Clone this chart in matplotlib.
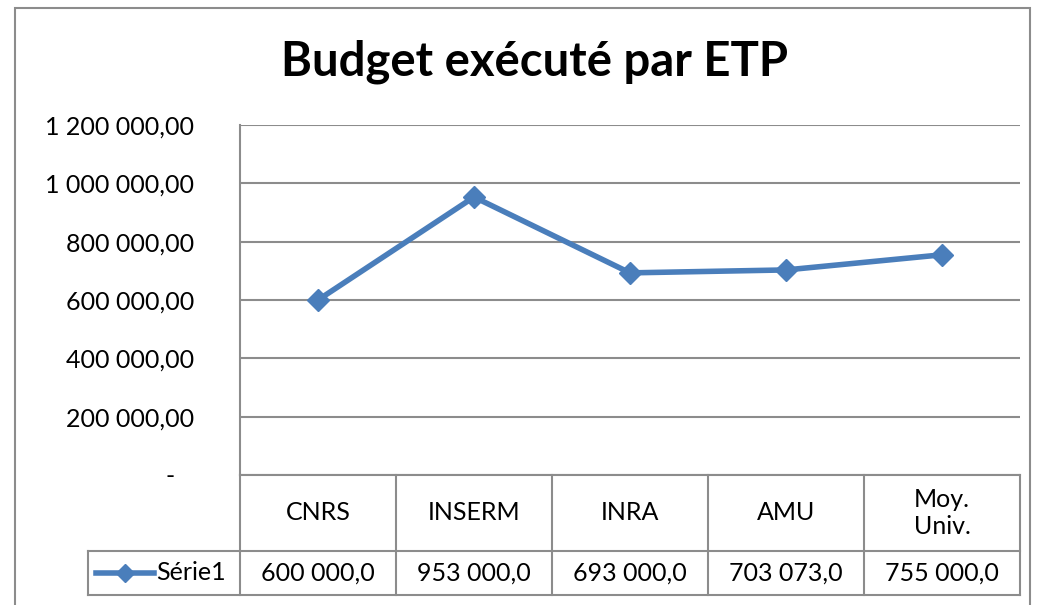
import matplotlib.pyplot as plt
from matplotlib.lines import Line2D
from matplotlib.patches import Rectangle

# Données
categories = ["CNRS", "INSERM", "INRA", "AMU", "Moy.\nUniv."]
budget_etp = [600000, 953000, 693000, 703073, 755000]
nom_serie = "Série1"
titre = "Budget exécuté par ETP"
y_ticks = [0, 200000, 400000, 600000, 800000, 1000000, 1200000]

bleu = "#4A7EBB"
gris = "#8C8C8C"
plt.rcParams['font.family'] = ['Lato', 'DejaVu Sans']
fs = 18


def fmt_fr(v, dec):
    # format français : espace pour les milliers, virgule décimale
    return f"{v:,.{dec}f}".replace(",", " ").replace(".", ",")


W, H = 1048, 605
fig = plt.figure(figsize=(W / 100, H / 100), dpi=100)

# cadre extérieur
fig.patches.append(Rectangle((15 / W, -0.1), (1030 - 15) / W, 1.1 - 8 / H,
                             transform=fig.transFigure, fill=False,
                             edgecolor=gris, linewidth=1.5))

# zone de tracé (en pixels)
x0, x1, y0, y1 = 240, 1020, 125, 475
ax = fig.add_axes([x0 / W, 1 - y1 / H, (x1 - x0) / W, (y1 - y0) / H])

xs = range(len(categories))
ax.plot(xs, budget_etp, color=bleu, linewidth=4, marker="D",
        markersize=11, zorder=3, clip_on=False)

ax.set_xlim(-0.5, len(categories) - 0.5)
ax.set_ylim(0, 1200000)
ax.set_yticks(y_ticks)
ax.set_yticklabels(["-   " if v == 0 else fmt_fr(v, 2) for v in y_ticks],
                   fontsize=fs)
ax.tick_params(axis="y", length=0, pad=33)
ax.set_xticks([])
ax.grid(axis="y", color=gris, linewidth=1.5)
ax.set_axisbelow(True)
for s in ["top", "right", "bottom"]:
    ax.spines[s].set_visible(False)
ax.spines["left"].set_color(gris)
ax.spines["left"].set_linewidth(1.5)

fig.text(535 / W, 1 - 62 / H, titre, ha="center", va="center",
         fontsize=34, fontweight="bold")

# tableau de données sous le graphique (coordonnées axes en y)
h_ax = y1 - y0
r_cat = -(551 - y1) / h_ax
r_val = -(595 - y1) / h_ax
leg_left = -(x0 - 88) / (x1 - x0)
tr = ax.get_xaxis_transform()
kw = dict(color=gris, linewidth=1.5, clip_on=False)

# lignes horizontales
ax.add_line(Line2D([-0.5, len(categories) - 0.5], [0, 0], transform=tr, **kw))
ax.add_line(Line2D([leg_left, 1], [r_cat, r_cat], transform=ax.transAxes, **kw))
ax.add_line(Line2D([leg_left, 1], [r_val, r_val], transform=ax.transAxes, **kw))
# lignes verticales
ax.add_line(Line2D([leg_left, leg_left], [r_cat, r_val], transform=ax.transAxes, **kw))
ax.add_line(Line2D([0, 0], [0, r_val], transform=ax.transAxes, **kw))
for i in range(len(categories)):
    xb = i + 0.5
    ax.add_line(Line2D([xb, xb], [0, r_val], transform=tr, **kw))

for i, (c, v) in enumerate(zip(categories, budget_etp)):
    ax.text(i, r_cat / 2, c, transform=tr, ha="center", va="center",
            fontsize=fs, linespacing=1.2)
    ax.text(i, (r_cat + r_val) / 2, fmt_fr(v, 1), transform=tr,
            ha="center", va="center", fontsize=fs)

# clé de légende
ym = (r_cat + r_val) / 2
ax.add_line(Line2D([leg_left + 0.01, leg_left + 0.085], [ym, ym],
                   transform=ax.transAxes, color=bleu, linewidth=4,
                   clip_on=False))
ax.add_line(Line2D([leg_left + 0.0475], [ym], transform=ax.transAxes,
                   color=bleu, marker="D", markersize=9, clip_on=False))
ax.text(leg_left + 0.087, ym, nom_serie, transform=ax.transAxes,
        ha="left", va="center", fontsize=fs)

fig.savefig("out.png", dpi=100)
